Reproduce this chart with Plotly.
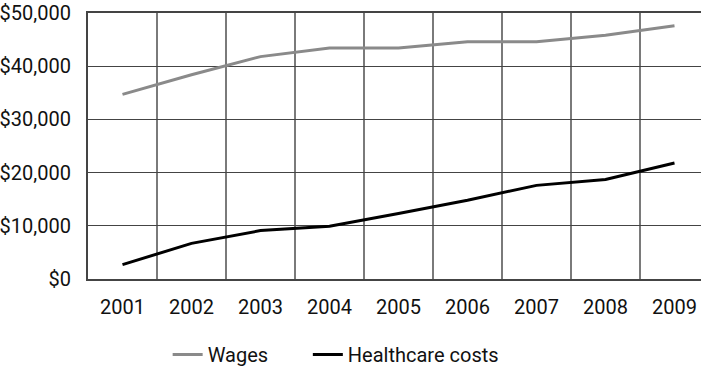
import plotly.graph_objects as go

years = ["2001", "2002", "2003", "2004", "2005", "2006", "2007", "2008", "2009"]
wages = [34700, 38400, 41800, 43400, 43400, 44600, 44600, 45800, 47600]
healthcare = [2700, 6700, 9100, 9900, 12300, 14800, 17600, 18700, 21800]
series_names = ["Wages", "Healthcare costs"]

FONT = "Liberation Sans Narrow, Arial Narrow, Roboto, sans-serif"
FS = 20
PAD = "\u00a0" * 7

fig = go.Figure()
fig.add_trace(go.Scatter(x=years, y=wages, mode="lines", name=series_names[0] + PAD,
                         line=dict(color="#8a8a8a", width=3)))
fig.add_trace(go.Scatter(x=years, y=healthcare, mode="lines", name=series_names[1],
                         line=dict(color="#000000", width=3)))

W, H = 701, 374
ml, mt, mb, mr = 88, 13, 93, 0
plot_w = W - ml - mr
cat_px = 69.0
xmax = -0.5 + plot_w / cat_px

fig.update_layout(
    width=W, height=H,
    margin=dict(l=ml, r=mr, t=mt, b=mb),
    paper_bgcolor="white", plot_bgcolor="white",
    font=dict(family=FONT, size=FS, color="#111111"),
    showlegend=True,
    legend=dict(orientation="h", x=0.404, xanchor="center", y=-0.285, yanchor="middle",
                font=dict(family=FONT, size=FS, color="#111111"),
                itemwidth=30, traceorder="normal"),
    xaxis=dict(type="category", range=[-0.5, xmax], tickson="boundaries",
               showgrid=True, gridcolor="#7a7a7a", gridwidth=1.5,
               showline=True, linecolor="#444444", linewidth=2, mirror=True,
               ticks="", ticklen=0, zeroline=False, ticklabelstandoff=9,
               tickfont=dict(family=FONT, size=FS, color="#111111")),
    yaxis=dict(range=[0, 50000], dtick=10000, tickprefix="$", tickformat=",",
               showgrid=True, gridcolor="#444444", gridwidth=1.2,
               showline=True, linecolor="#444444", linewidth=2, mirror=False,
               zeroline=False, ticks="", ticklabelstandoff=11,
               tickfont=dict(family=FONT, size=FS, color="#111111")),
)

fig.write_html("out.html")
